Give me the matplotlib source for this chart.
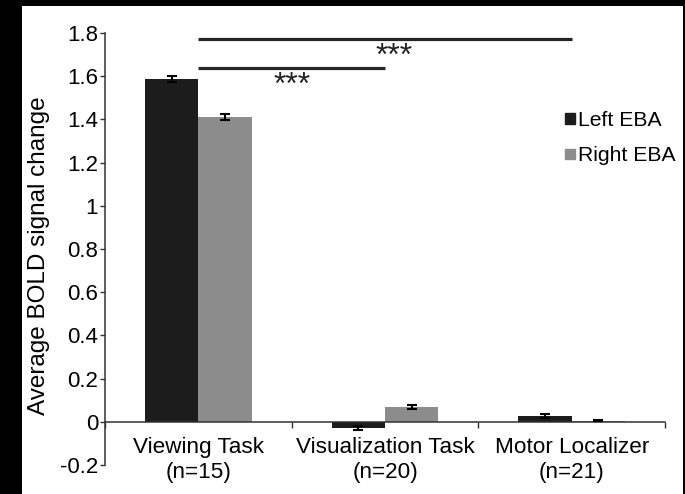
import matplotlib.pyplot as plt
from matplotlib.patches import Patch

plt.rcParams['font.family'] = ['Liberation Sans', 'DejaVu Sans']

# data
categories = ['Viewing Task\n(n=15)', 'Visualization Task\n(n=20)', 'Motor Localizer\n(n=21)']
left_eba = [1.586, -0.030, 0.027]
left_err = [0.014, 0.010, 0.010]
right_eba = [1.409, 0.069, 0.006]
right_err = [0.014, 0.010, 0.003]
series_names = ['Left EBA', 'Right EBA']
yticks = [-0.2, 0, 0.2, 0.4, 0.6, 0.8, 1, 1.2, 1.4, 1.6, 1.8]
ytick_labels = ['-0.2', '0', '0.2', '0.4', '0.6', '0.8', '1', '1.2', '1.4', '1.6', '1.8']
# significance brackets: (from group, to group, line height, star x, star y)
sig_lines = [(0, 2, 1.771, 1.05, 1.650), (0, 1, 1.640, 0.50, 1.520)]

dark = '#1b1c1b'
grey = '#8c8c8c'
axis_col = '#333333'

fig = plt.figure(figsize=(6.85, 4.94), dpi=100, facecolor='black')
# white panel inside the black frame
bg = fig.add_axes([22 / 685, 0, 661 / 685, 488 / 494], zorder=-5)
bg.set_facecolor('white')
bg.set_xticks([])
bg.set_yticks([])
for s in bg.spines.values():
    s.set_visible(False)

ax = fig.add_axes([105 / 685, 1 - 465 / 494, 560 / 685, 432 / 494])
ax.set_facecolor('none')

w = 0.286
x = list(range(len(categories)))
ax.bar([i - w / 2 for i in x], left_eba, width=w, color=dark, zorder=2)
ax.bar([i + w / 2 for i in x], right_eba, width=w, color=grey, zorder=2)
ax.errorbar([i - w / 2 for i in x], left_eba, yerr=left_err, fmt='none', ecolor='black',
            elinewidth=1.5, capsize=3.5, capthick=1.5, zorder=3)
ax.errorbar([i + w / 2 for i in x], right_eba, yerr=right_err, fmt='none', ecolor='black',
            elinewidth=1.5, capsize=3.5, capthick=1.5, zorder=3)

for a, b, h, sx, sy in sig_lines:
    ax.plot([a, b], [h, h], color='#262626', lw=2.3, solid_capstyle='butt', zorder=3,
            clip_on=False)
    ax.text(sx, sy, '***', ha='center', va='baseline', fontsize=23, color='#222222')

ax.set_xlim(-0.5, 2.5)
ax.set_ylim(-0.2, 1.8)

for s in ['top', 'right']:
    ax.spines[s].set_visible(False)
ax.spines['bottom'].set_position(('data', 0))
ax.spines['bottom'].set_color(axis_col)
ax.spines['left'].set_color(axis_col)
ax.spines['bottom'].set_linewidth(1.1)
ax.spines['left'].set_linewidth(1.1)

ax.set_yticks(yticks)
ax.set_yticklabels(ytick_labels, fontsize=16)
ax.tick_params(axis='y', direction='out', length=3.5, width=1, color=axis_col, pad=1.5)

ax.set_xticks(x)
ax.set_xticklabels(categories, fontsize=16.2)
ax.set_xticks([-0.5, 0.5, 1.5, 2.5], minor=True)
ax.tick_params(axis='x', which='major', length=0, pad=11)
ax.tick_params(axis='x', which='minor', direction='out', length=4, width=1, color=axis_col)
for lbl in ax.get_xticklabels():
    lbl.set_linespacing(1.25)

ax.set_ylabel('Average BOLD signal change', fontsize=17.5)
ax.yaxis.set_label_coords(-0.098, 0.485)

handles = [Patch(color=dark), Patch(color=grey)]
fig.legend(handles, series_names, loc='upper left', bbox_to_anchor=(565 / 685, 1 - 111 / 494),
           frameon=False, fontsize=15.2, handlelength=0.48, handleheight=0.4,
           handletextpad=0.12, labelspacing=0.78, borderpad=0, borderaxespad=0)

fig.savefig('out.png', dpi=100, facecolor='black')
